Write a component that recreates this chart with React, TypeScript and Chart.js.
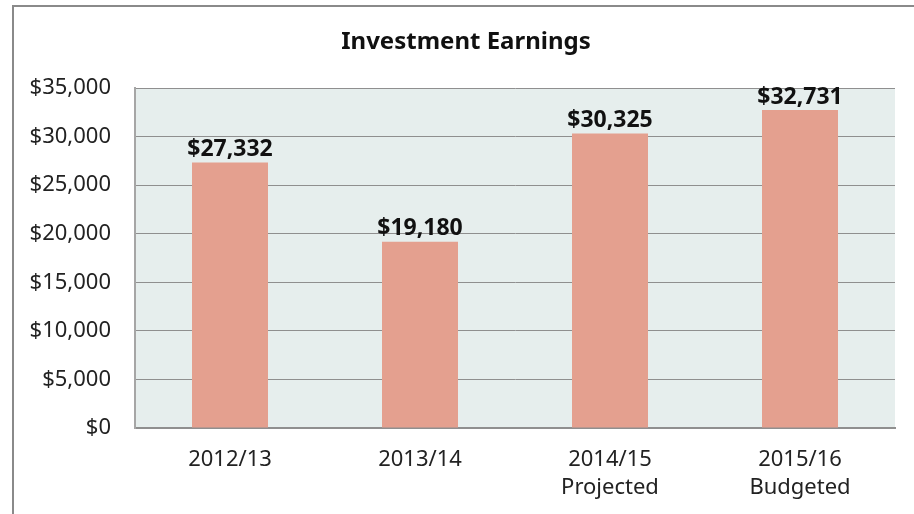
import React, { useEffect, useRef } from "react";
import { Chart, registerables } from "chart.js";

Chart.register(...registerables);

const chartTitle = "Investment Earnings";
const categories: string[][] = [["2012/13"], ["2013/14"], ["2014/15", "Projected"], ["2015/16", "Budgeted"]];
const earnings: number[] = [27332, 19180, 30325, 32731];
const yMin = 0;
const yMax = 35000;
const yStep = 5000;

const fmt = (v: number) => "$" + Math.round(v).toLocaleString("en-US");

const FONT = "'Noto Sans', 'Open Sans', sans-serif";

const plotBg = {
  id: "plotBg",
  beforeDraw(chart: any) {
    const { ctx, chartArea } = chart;
    ctx.save();
    ctx.fillStyle = "#e6eeed";
    ctx.fillRect(chartArea.left, chartArea.top, chartArea.right - chartArea.left, chartArea.bottom - chartArea.top);
    ctx.restore();
  },
};

const titlePlugin = {
  id: "customTitle",
  afterDraw(chart: any) {
    const { ctx } = chart;
    ctx.save();
    ctx.font = `bold 24px ${FONT}`;
    ctx.fillStyle = "#111";
    ctx.textAlign = "center";
    ctx.textBaseline = "middle";
    ctx.fillText(chartTitle, 466, 42);
    ctx.restore();
  },
};

const valueLabels = {
  id: "valueLabels",
  afterDatasetsDraw(chart: any) {
    const { ctx } = chart;
    const meta = chart.getDatasetMeta(0);
    ctx.save();
    ctx.font = `bold 23px ${FONT}`;
    ctx.fillStyle = "#111";
    ctx.textAlign = "center";
    ctx.textBaseline = "middle";
    meta.data.forEach((bar: any, i: number) => {
      ctx.fillText(fmt(earnings[i]), bar.x, bar.y - 13);
    });
    ctx.restore();
  },
};

export default function App() {
  const ref = useRef<HTMLCanvasElement>(null);
  useEffect(() => {
    document.body.style.margin = "0";
    const chart = new Chart(ref.current!, {
      type: "bar",
      data: {
        labels: categories,
        datasets: [
          {
            data: earnings,
            backgroundColor: "#e4a08f",
            borderWidth: 0,
            categoryPercentage: 1,
            barPercentage: 0.4,
          },
        ],
      },
      options: {
        responsive: false,
        animation: false,
        layout: { padding: { left: 0, right: 19, top: 88, bottom: 0 } },
        plugins: {
          legend: { display: false },
          title: { display: false },
          tooltip: { enabled: false },
        },
        scales: {
          x: {
            grid: { display: false, drawTicks: false },
            border: { color: "#8f8f8f", width: 2 },
            ticks: {
              color: "#222",
              padding: 18,
              font: { family: FONT, size: 22, lineHeight: 28 / 22 },
            },
            afterFit(scale: any) {
              scale.height = 86;
            },
          },
          y: {
            min: yMin,
            max: yMax,
            grid: { color: "#8f8f8f", lineWidth: 1, drawTicks: false },
            border: { color: "#a6a6a6", width: 2 },
            ticks: {
              stepSize: yStep,
              color: "#222",
              padding: 24,
              font: { family: FONT, size: 22 },
              callback: (v: any) => fmt(Number(v)),
            },
            afterFit(scale: any) {
              scale.width = 135;
            },
          },
        },
      },
      plugins: [plotBg, valueLabels, titlePlugin],
    });
    return () => chart.destroy();
  }, []);
  return (
    <div style={{ position: "fixed", left: 0, top: 0, width: 914, height: 514, overflow: "hidden", background: "#fff" }}>
      <div
        style={{
          position: "absolute",
          left: 12,
          top: 5,
          width: 1200,
          height: 1200,
          border: "2px solid #8a8a8a",
          boxSizing: "border-box",
        }}
      />
      <canvas ref={ref} width={914} height={514} style={{ position: "absolute", left: 0, top: 0, width: 914, height: 514 }} />
    </div>
  );
}
